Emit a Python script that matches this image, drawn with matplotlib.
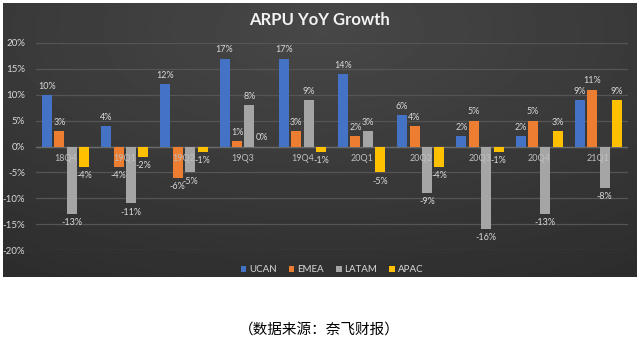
import numpy as np
import matplotlib.pyplot as plt

quarters = ['18Q4', '19Q1', '19Q2', '19Q3', '19Q4', '20Q1', '20Q2', '20Q3', '20Q4', '21Q1']
ucan = [10, 4, 12, 17, 17, 14, 6, 2, 2, 9]
emea = [3, -4, -6, 1, 3, 2, 4, 5, 5, 11]
latam = [-13, -11, -5, 8, 9, 3, -9, -16, -13, -8]
apac = [-4, -2, -1, 0, -1, -5, -4, -1, 3, 9]
regions = ['UCAN', 'EMEA', 'LATAM', 'APAC']
colors = ['#4472C4', '#ED7D31', '#A5A5A5', '#FFC000']

plt.rcParams['font.family'] = ['Lato', 'DejaVu Sans']

fig = plt.figure(figsize=(6.39, 3.42), dpi=100)
fig.patch.set_facecolor('white')

# dark panel with a soft gradient
bg = fig.add_axes([3/639, 1 - 277/342, 634/639, 274/342])
yy, xx = np.mgrid[0:1:200j, 0:1:400j]
shade = 0.28 - 0.10 * np.sqrt(((xx - 0.5) * 1.1) ** 2 + (yy - 0.1) ** 2)
bg.imshow(shade, cmap='gray', vmin=0, vmax=1, aspect='auto', extent=[0, 1, 0, 1])
bg.axis('off')

ax = fig.add_axes([36/639, 1 - 250/342, 592/639, 207/342])
ax.patch.set_alpha(0)

x = np.arange(len(quarters))
width = 0.17
step = 0.21
series = [ucan, emea, latam, apac]
for i, (vals, name, c) in enumerate(zip(series, regions, colors)):
    pos = x + (i - 1.5) * step
    ax.bar(pos, vals, width, color=c, label=name, zorder=3)
    for px, v in zip(pos, vals):
        if v >= 0:
            ax.text(px, v + 0.8, f'{v}%', ha='center', va='bottom', color='#d9d9d9', fontsize=6.5, zorder=4)
        else:
            ax.text(px, v - 0.8, f'{v}%', ha='center', va='top', color='#d9d9d9', fontsize=6.5, zorder=4)

for px, q in zip(x, quarters):
    ax.text(px, -1.4, q, ha='center', va='top', color='#bfbfbf', fontsize=6.5, zorder=4)

ax.set_xlim(-0.5, len(quarters) - 0.5)
ax.set_ylim(-20, 20)
ax.set_yticks(np.arange(-20, 21, 5))
ax.set_yticklabels([f'{t}%' for t in range(-20, 21, 5)])
ax.set_xticks([])
ax.tick_params(axis='y', length=0, colors='#d9d9d9', labelsize=7, pad=8)
ax.grid(axis='y', color='#555555', linewidth=0.9, zorder=0)
ax.axhline(0, color='#6a6a6a', linewidth=1, zorder=2)
for s in ax.spines.values():
    s.set_visible(False)

fig.text(0.5, 1 - 20/342, 'ARPU YoY Growth', ha='center', va='center', color='#f2f2f2',
         fontsize=12, fontweight='bold')

leg = ax.legend(loc='center', bbox_to_anchor=(0.5, (250 - 270) / 207), ncol=4, frameon=False,
                fontsize=7, handlelength=0.6, handleheight=0.6, handletextpad=0.3, columnspacing=1.2)
for t in leg.get_texts():
    t.set_color('#d9d9d9')

fig.text(0.5, 1 - 330/342, '（数据来源：奈飞财报）', ha='center', va='center', color='black',
         fontsize=10.5, family=['Noto Sans CJK SC', 'DejaVu Sans'])

fig.savefig('out.png', dpi=100)
